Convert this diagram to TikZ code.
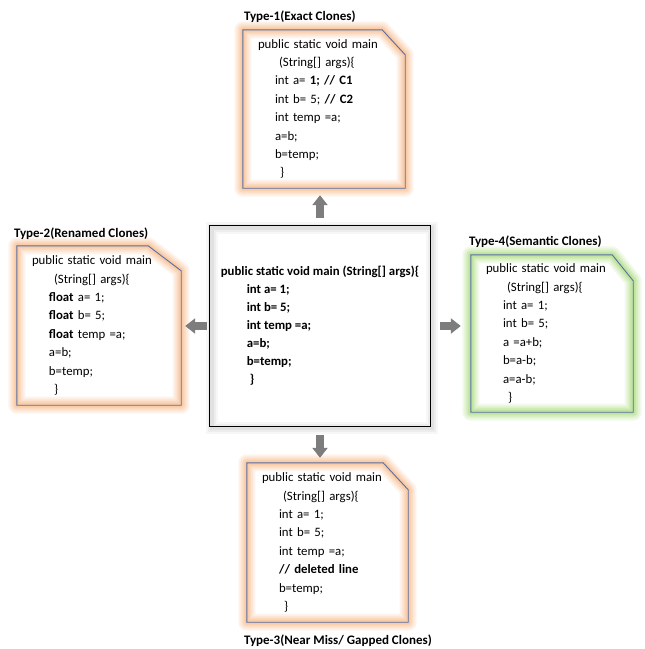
\documentclass[tikz,border=0pt]{standalone}
\usepackage{fontspec}
\setmainfont{Carlito}
\usepackage{tikz}
\usetikzlibrary{positioning}
\usetikzlibrary{calc}
\usetikzlibrary{arrows.meta}
\definecolor{glowor}{RGB}{245,160,95}
\definecolor{glowgr}{RGB}{140,205,80}
\definecolor{rim}{RGB}{84,110,165}
\definecolor{arrgray}{RGB}{125,125,125}

\begin{document}
\begin{tikzpicture}[x=1pt, y=-1pt,
    code/.style={font=\fontsize{12.8pt}{18.4pt}\selectfont, align=left, inner ysep=0pt, inner xsep=15pt, text width=#1},
    ttl/.style={font=\fontsize{13pt}{16pt}\selectfont\bfseries, inner sep=0pt, anchor=base west},
    blockarr/.style={arrgray, line width=8pt, -{Triangle[width=15pt, length=10pt]}}]
    \useasboundingbox (0,0) rectangle (645,649);

    \node[code=132pt, minimum width=162pt, minimum height=158pt] (t1) at (324,109) {public static void main\\
      \hspace*{21pt}(String[] args)\{\\
      \hspace*{17pt}int a= \textbf{1; // C1}\\
      \hspace*{17pt}int b= 5; \textbf{// C2}\\
      \hspace*{17pt}int temp =a;\\
      \hspace*{17pt}a=b;\\
      \hspace*{17pt}b=temp;\\
      \hspace*{22pt}\}};
    \node[code=134pt, minimum width=164pt, minimum height=159pt] (t2) at (99,325.5) {public static void main\\
      \hspace*{22pt}(String[] args)\{\\
      \hspace*{17pt}\textbf{float} a= 1;\\
      \hspace*{17pt}\textbf{float} b= 5;\\
      \hspace*{17pt}\textbf{float} temp =a;\\
      \hspace*{17pt}a=b;\\
      \hspace*{17pt}b=temp;\\
      \hspace*{22pt}\}};
    \node[align=left, inner sep=0pt, minimum width=220pt, minimum height=200pt, font=\fontsize{12.8pt}{18pt}\selectfont\bfseries] (ctr) at (320,326) {public static void main (String[] args)\{\\
      \hspace*{26pt}int a= 1;\\
      \hspace*{26pt}int b= 5;\\
      \hspace*{26pt}int temp =a;\\
      \hspace*{26pt}a=b;\\
      \hspace*{26pt}b=temp;\\
      \hspace*{29pt}\}};
    \node[code=132pt, minimum width=162pt, minimum height=157pt] (t4) at (552,333.5) {public static void main\\
      \hspace*{21pt}(String[] args)\{\\
      \hspace*{17pt}int a= 1;\\
      \hspace*{17pt}int b= 5;\\
      \hspace*{17pt}a =a+b;\\
      \hspace*{17pt}b=a-b;\\
      \hspace*{17pt}a=a-b;\\
      \hspace*{22pt}\}};
    \node[code=131pt, minimum width=161pt, minimum height=159pt] (t3) at (327.5,542.5) {public static void main\\
      \hspace*{21pt}(String[] args)\{\\
      \hspace*{17pt}int a= 1;\\
      \hspace*{17pt}int b= 5;\\
      \hspace*{17pt}int temp =a;\\
      \hspace*{17pt}\textbf{// deleted line}\\
      \hspace*{17pt}b=temp;\\
      \hspace*{22pt}\}};

    \foreach \b/\cx/\cy/\gc in {t1/23/25/glowor, t2/33/25/glowor, t3/25/27/glowor, t4/21/26/glowgr} {
      \foreach \w/\o in {17/0.12, 13/0.15, 9/0.2, 5/0.25}
        \draw[\gc, line width=\w pt, opacity=\o, line join=round] (\b.south west) -- (\b.north west) -- ([xshift=-\cx pt]\b.north east) -- ([yshift=-\cy pt]\b.north east) -- (\b.south east) -- cycle;
      \draw[rim, line width=0.9pt] (\b.south west) -- (\b.north west) -- ([xshift=-\cx pt]\b.north east) -- ([yshift=-\cy pt]\b.north east) -- (\b.south east) -- cycle;
    }
    \foreach \w/\o in {12/0.03, 8/0.04, 4/0.05}
      \draw[black, line width=\w pt, opacity=\o] ([shift={(2pt,-2pt)}]ctr.south west) rectangle ([shift={(2pt,-2pt)}]ctr.north east);
    \draw[black, line width=0.7pt, fill=none] (ctr.south west) rectangle (ctr.north east);

    \node[ttl] (l1) at ([xshift=1pt, yshift=9pt]t1.north west) {Type-1(Exact Clones)};
    \node[ttl] (l2) at ([xshift=-3pt, yshift=8pt]t2.north west) {Type-2(Renamed Clones)};
    \node[ttl] (l4) at ([xshift=-2pt, yshift=9pt]t4.north west) {Type-4(Semantic Clones)};
    \node[ttl] (l3) at ([xshift=-3pt, yshift=-22pt]t3.south west) {Type-3(Near Miss/ Gapped Clones)};

    \draw[blockarr, shorten <=8pt, shorten >=7pt] (ctr.north) -- (ctr.north |- t1.south);
    \draw[blockarr, shorten <=3pt, shorten >=4pt] (ctr.west) -- (ctr.west -| t2.east);
    \draw[blockarr, shorten <=10pt, shorten >=10pt] (ctr.east) -- (ctr.east -| t4.west);
    \draw[blockarr, shorten <=9pt, shorten >=5pt] (ctr.south) -- (ctr.south |- t3.north);
\end{tikzpicture}
\end{document}
